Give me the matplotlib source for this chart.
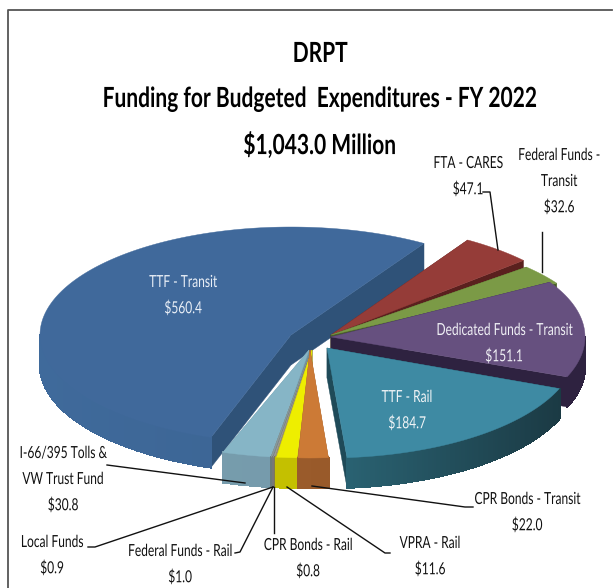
import numpy as np
import matplotlib
matplotlib.use("Agg")
import matplotlib.pyplot as plt
from matplotlib.colors import to_rgb
from matplotlib.patches import Polygon
from matplotlib.patheffects import AbstractPathEffect
from matplotlib.transforms import Affine2D

# Values in $ millions, clockwise from the top right edge of the big slice
names = ["FTA - CARES", "Federal Funds -\nTransit", "Dedicated Funds - Transit", "TTF - Rail",
         "CPR Bonds - Transit", "VPRA - Rail", "CPR Bonds - Rail", "Federal Funds - Rail",
         "Local Funds", "I-66/395 Tolls &\nVW Trust Fund", "TTF - Transit"]
values = [47.1, 32.6, 151.1, 184.7, 22.0, 11.6, 0.8, 1.0, 0.9, 30.8, 560.4]
title_lines = ["DRPT", "Funding for Budgeted  Expenditures - FY 2022", "$1,043.0 Million"]

# slice styles, same order as values
top_colors = ["#953c38", "#7b9a46", "#66507f", "#3e8aa3", "#cc7a36", "#eeee00",
              "#a09a70", "#9a9a9a", "#8a9a9a", "#86b5c6", "#40699b"]
cut_colors = ["#5a201e", "#4a5f2a", "#2e2240", "#1f4a58", "#9a5a28", "#c4c000",
              "#807a50", "#777777", "#6a7a7a", "#7197a8", "#2f5278"]
rim_left = ["#5a201e", "#4a5f2a", "#2e2240", "#2a6373", "#a05f2b", "#c4c000",
            "#807a50", "#777777", "#6a7a7a", "#7aa0b0", "#3f6a9b"]
rim_right = ["#5a201e", "#4a5f2a", "#2e2240", "#1b3a44", "#93562a", "#c4c000",
             "#807a50", "#777777", "#6a7a7a", "#7094a6", "#395f8c"]

# pixel layout of each slice: apex and the two radii of its ellipse
apex_x = [331, 331, 331, 327, 310, 312, 312, 312, 311, 309, 291]
apex_y = [335, 335, 337, 348, 350, 350, 350, 350, 350, 350, 335]
rad_x = [258, 262, 254, 250, 230, 290, 290, 290, 290, 270, 251]
rad_y = [112, 102, 108, 110, 108, 108, 108, 108, 108, 108, 108]
depth = 30
start_angle = 58
draw_order = [10, 0, 1, 2, 9, 8, 7, 6, 5, 4, 3]

# (text centre x, first line y, colour) per label
label_x = [468, 559, 504, 407, 527, 430, 308, 180, 52, 63, 183]
label_y = [163, 155, 330, 397, 499, 543, 545, 551, 542, 453, 282]
label_colors = ["#111111", "#111111", "#f0f0f5", "#f0f4f6", "#111111", "#111111",
                "#111111", "#111111", "#111111", "#111111", "#e8eef6"]
leaders = [[(483, 192), (490, 192), (498, 250)],
           [(542, 232), (542, 272)],
           [(473, 507), (465, 507), (312, 486)],
           [(390, 553), (385, 553), (287, 487)],
           [(274, 533), (274, 487)],
           [(235, 553), (240, 552), (273, 487)],
           [(88, 547), (95, 547), (273, 487)],
           [(107, 465), (245, 483)]]


class Squeeze(AbstractPathEffect):
    # the reference text is squashed sideways, no narrow font is installed
    def __init__(self, factor):
        super().__init__()
        self.factor = factor

    def draw_path(self, renderer, gc, tpath, affine, rgbFace=None):
        box = tpath.get_extents(affine)
        cx = (box.x0 + box.x1) / 2
        squeezed = affine + Affine2D().translate(-cx, 0).scale(self.factor, 1).translate(cx, 0)
        renderer.draw_path(gc, tpath, squeezed, rgbFace)


fig = plt.figure(figsize=(6.16, 5.88), dpi=100)
ax = fig.add_axes([0, 0, 1, 1])
ax.set_xlim(0, 616)
ax.set_ylim(588, 0)
ax.axis("off")

# chart frame, only left and top are in the crop
ax.plot([7.5, 7.5, 612], [588, 9.5, 9.5], color="#555555", lw=1.3)


def pt(i, deg, z=0):
    a = np.radians(deg)
    return apex_x[i] + rad_x[i] * np.cos(a), apex_y[i] - rad_y[i] * np.sin(a) + z


def draw_slice(i, a0, a1):
    # a0 > a1, going clockwise
    thetas = np.linspace(a0, a1, max(int(a0 - a1) * 2, 4))
    apex = (apex_x[i], apex_y[i])
    apex_low = (apex_x[i], apex_y[i] + depth)

    for a in (a0, a1):
        quad = [apex, pt(i, a), pt(i, a, depth), apex_low]
        ax.add_patch(Polygon(quad, fc=cut_colors[i], ec=cut_colors[i], lw=0.3))

    # outer rim, small strips so the shade can change along it
    c_l, c_r = np.array(to_rgb(rim_left[i])), np.array(to_rgb(rim_right[i]))
    for t0, t1 in zip(thetas[:-1], thetas[1:]):
        if np.sin(np.radians(t0)) > 0 and np.sin(np.radians(t1)) > 0:
            continue
        f = np.clip((pt(i, t0)[0] - (apex_x[i] - rad_x[i])) / (2 * rad_x[i]), 0, 1)
        if i == 3:
            f = np.clip((pt(i, t0)[0] - 340) / 220, 0, 1)
        col = c_l + (c_r - c_l) * f
        strip = [pt(i, t0), pt(i, t1), pt(i, t1, depth), pt(i, t0, depth)]
        ax.add_patch(Polygon(strip, fc=col, ec=col, lw=1.0, antialiased=False))

    top = [apex] + [pt(i, t) for t in thetas]
    ax.add_patch(Polygon(top, closed=True, fc=top_colors[i], ec=top_colors[i], lw=0.3))


sweeps = np.array(values) / sum(values) * 360
edges = start_angle - np.concatenate([[0], np.cumsum(sweeps)])
for i in draw_order:
    draw_slice(i, edges[i], edges[i + 1])

for line in leaders:
    xs, ys = zip(*line)
    ax.plot(xs, ys, color="#111111", lw=1.0)

for name, val, x, y, col in zip(names, values, label_x, label_y, label_colors):
    lines = name.split("\n") + [f"${val:.1f}"]
    for k, txt in enumerate(lines):
        ax.text(x, y + k * 26, txt, ha="center", va="center", fontsize=12,
                color=col, family="Lato", path_effects=[Squeeze(0.72)])

for txt, y in zip(title_lines, [54, 99, 145]):
    ax.text(320, y, txt, ha="center", va="center", fontsize=20, fontweight="bold",
            color="black", family="Lato", path_effects=[Squeeze(0.755)])

fig.savefig("out.png", dpi=100)
